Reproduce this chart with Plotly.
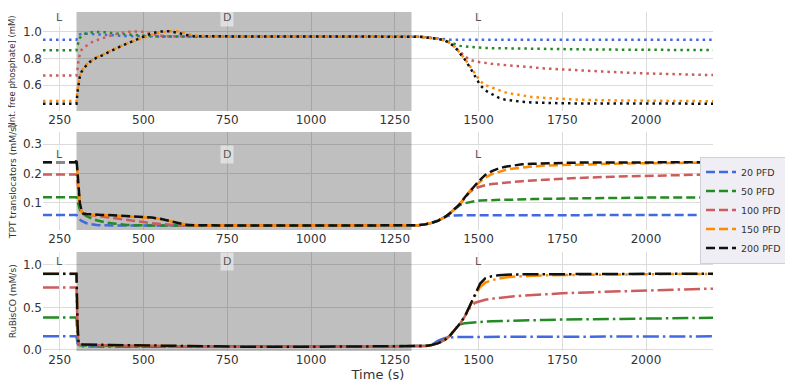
import plotly.graph_objects as go

# ---------------- data ----------------
T = [200, 298, 300, 303, 306, 310, 315, 320, 330, 340,
     350, 360, 375, 390, 410, 430, 450, 475, 500, 525,
     550, 575, 600, 625, 650, 700, 800, 1000, 1200, 1300,
     1320, 1340, 1360, 1380, 1400, 1415, 1430, 1445, 1460, 1475,
     1490, 1505, 1520, 1540, 1560, 1580, 1600, 1630, 1660, 1700,
     1750, 1800, 1900, 2000, 2100, 2200]

series_names = ["20 PFD", "50 PFD", "100 PFD", "150 PFD", "200 PFD"]

pi_20 = [.942, .942, .942, .960, .975, .982, .985, .986, .986, .985,
         .984, .983, .982, .980, .976, .972, .969, .967, .966, .966,
         .966, .966, .966, .966, .966, .966, .966, .966, .966, .966,
         .964, .960, .955, .948, .943, .942, .942, .942, .942, .942,
         .942, .942, .942, .942, .942, .942, .942, .942, .942, .942,
         .942, .942, .942, .942, .942, .942]
pi_50 = [.863, .863, .863, .900, .930, .955, .970, .980, .990, .997,
         1.0, 1.0, 1.0, .997, .990, .985, .980, .975, .970, .967,
         .966, .966, .966, .966, .966, .966, .966, .966, .966, .966,
         .964, .960, .955, .948, .935, .920, .905, .895, .890, .886,
         .883, .880, .879, .878, .877, .876, .875, .874, .873, .872,
         .870, .869, .867, .865, .864, .863]
pi_100 = [.672, .672, .672, .720, .790, .830, .865, .878, .900, .915,
          .928, .938, .952, .963, .980, .992, 1.0, 1.004, 1.0, .986,
          .972, .967, .966, .966, .966, .966, .966, .966, .966, .966,
          .964, .960, .955, .948, .935, .915, .885, .850, .815, .790,
          .778, .772, .765, .760, .755, .750, .745, .738, .732, .725,
          .718, .710, .698, .688, .680, .675]
pi_150 = [.480, .480, .480, .560, .615, .670, .705, .725, .755, .778,
          .795, .808, .825, .845, .868, .892, .912, .936, .955, .978,
          .995, 1.005, 1.005, .990, .975, .966, .966, .966, .966, .966,
          .964, .960, .955, .948, .935, .915, .885, .840, .795, .740,
          .680, .630, .600, .580, .560, .545, .535, .520, .510, .503,
          .495, .490, .485, .482, .480, .478]
pi_200 = [.460, .460, .460, .550, .610, .665, .700, .720, .750, .775,
          .793, .806, .822, .843, .865, .890, .910, .935, .965, .990,
          1.003, 1.005, .995, .978, .968, .966, .966, .966, .966, .966,
          .964, .960, .955, .948, .935, .915, .885, .840, .790, .730,
          .665, .600, .560, .530, .505, .490, .482, .474, .469, .465,
          .463, .462, .461, .460, .460, .460]

tpt_20 = [.059, .059, .059, .052, .047, .043, .039, .036, .031, .028,
          .026, .025, .024, .023, .023, .023, .023, .023, .023, .023,
          .023, .023, .023, .023, .023, .023, .023, .023, .023, .023,
          .024, .027, .032, .040, .053, .057, .058, .058, .058, .058,
          .058, .058, .058, .058, .058, .059, .059, .059, .059, .059,
          .059, .059, .059, .059, .059, .059]
tpt_50 = [.119, .119, .119, .105, .090, .078, .068, .062, .055, .049,
          .045, .041, .036, .033, .030, .027, .025, .024, .023, .023,
          .023, .023, .023, .023, .023, .023, .023, .023, .023, .023,
          .024, .027, .032, .040, .052, .065, .080, .093, .099, .103,
          .106, .108, .109, .110, .110, .111, .111, .113, .113, .114,
          .115, .116, .117, .118, .118, .119]
tpt_100 = [.197, .197, .197, .170, .130, .095, .072, .064, .060, .058,
           .057, .056, .054, .052, .049, .046, .043, .039, .035, .031,
           .028, .026, .024, .023, .023, .023, .023, .023, .023, .023,
           .024, .027, .032, .040, .052, .065, .080, .097, .118, .138,
           .150, .156, .160, .164, .167, .169, .171, .174, .176, .179,
           .182, .185, .189, .192, .195, .197]
tpt_150 = [.237, .237, .237, .200, .140, .095, .070, .062, .060, .060,
           .059, .059, .058, .058, .057, .056, .055, .054, .052, .049,
           .045, .039, .032, .027, .024, .023, .023, .023, .023, .023,
           .024, .027, .032, .040, .052, .065, .080, .097, .120, .142,
           .158, .172, .186, .198, .206, .212, .216, .221, .224, .227,
           .229, .231, .233, .235, .236, .237]
tpt_200 = [.238, .238, .250, .210, .150, .100, .073, .064, .062, .061,
           .060, .060, .059, .059, .058, .057, .056, .055, .053, .050,
           .046, .040, .032, .026, .024, .023, .023, .023, .023, .023,
           .024, .027, .032, .040, .052, .065, .080, .097, .120, .142,
           .160, .178, .195, .208, .217, .223, .227, .231, .233, .235,
           .236, .237, .238, .238, .238, .238]

rub_20 = [.160, .160, .160, .080, .050, .045, .043, .042, .041, .040,
          .040, .039, .039, .038, .038, .038, .038, .038, .038, .038,
          .038, .038, .038, .038, .038, .038, .038, .038, .038, .038,
          .040, .046, .058, .110, .140, .150, .152, .153, .153, .154,
          .154, .154, .155, .155, .155, .155, .156, .156, .156, .157,
          .157, .158, .158, .159, .159, .160]
rub_50 = [.380, .380, .380, .150, .065, .055, .053, .052, .051, .050,
          .050, .049, .048, .046, .045, .044, .042, .041, .039, .039,
          .038, .038, .038, .038, .038, .038, .038, .038, .038, .038,
          .040, .046, .058, .080, .120, .170, .250, .300, .315, .322,
          .327, .331, .334, .337, .340, .342, .344, .347, .350, .353,
          .357, .360, .366, .371, .375, .378]
rub_100 = [.733, .733, .733, .250, .075, .062, .061, .060, .059, .058,
           .058, .057, .056, .055, .054, .052, .050, .048, .046, .044,
           .042, .041, .040, .040, .039, .038, .038, .038, .038, .038,
           .040, .046, .058, .080, .120, .170, .240, .310, .400, .500,
           .555, .575, .590, .602, .612, .620, .628, .638, .646, .655,
           .665, .673, .688, .700, .710, .720]
rub_150 = [.893, .893, .893, .300, .080, .065, .064, .062, .061, .061,
           .060, .060, .059, .058, .057, .056, .055, .054, .052, .050,
           .048, .046, .044, .042, .041, .039, .038, .038, .038, .038,
           .040, .046, .058, .080, .120, .170, .240, .310, .400, .520,
           .640, .740, .790, .820, .840, .852, .860, .867, .872, .877,
           .880, .883, .887, .889, .891, .892]
rub_200 = [.895, .895, .895, .310, .082, .066, .065, .063, .062, .062,
           .061, .061, .060, .059, .058, .057, .056, .055, .053, .051,
           .049, .047, .045, .043, .041, .039, .038, .038, .038, .038,
           .040, .046, .058, .080, .120, .170, .240, .310, .400, .530,
           .670, .780, .840, .866, .877, .883, .886, .888, .889, .890,
           .891, .892, .893, .894, .895, .896]

dark_start, dark_end = 300, 1300
phase_labels = ["L", "D", "L"]
phase_label_x = [250, 750, 1500]
x_ticks = [250, 500, 750, 1000, 1250, 1500, 1750, 2000]

# ---------------- styling ----------------
colors = ["#4169e1", "#228b22", "#cd5c5c", "#ff8c00", "#111111"]
LW = 2.5
DOT = "2.5px,4px"
DASH = "9px,4px"
DASHDOT = "16px,4px,2.5px,4px"

panels = [
    dict(data=[pi_20, pi_50, pi_100, pi_150, pi_200], dash=DOT,
         title="[Int. free phosphate] (mM)", rng=[0.405, 1.15],
         ticks=[0.4, 0.6, 0.8, 1.0], fmt=".1f", lab_y=1.107,
         dom=[0.708, 1.0], legend=False, title_y=0.826, title_size=8.5),
    dict(data=[tpt_20, tpt_50, tpt_100, tpt_150, tpt_200], dash=DASH,
         title="TPT translocators (mM/s)", rng=[0.008, 0.341],
         ticks=[0.1, 0.2, 0.3], fmt=".1f", lab_y=0.265,
         dom=[0.357, 0.646], legend=True, title_y=0.501, title_size=9.2),
    dict(data=[rub_20, rub_50, rub_100, rub_150, rub_200], dash=DASHDOT,
         title="RuBisCO (mM/s)", rng=[-0.012, 1.15],
         ticks=[0.0, 0.5, 1.0], fmt=".1f", lab_y=1.035,
         dom=[0.0, 0.292], legend=False, title_y=0.147, title_size=9.2),
]

fig = go.Figure()
annotations = []
for i, p in enumerate(panels):
    n = "" if i == 0 else str(i + 1)
    xa, ya = "x" + n, "y" + n
    lo, hi = p["rng"]
    # dark-period shading (drawn first: above grid, below data)
    fig.add_trace(go.Scatter(
        x=[dark_start, dark_end, dark_end, dark_start, dark_start],
        y=[lo, lo, hi, hi, lo], mode="lines", fill="toself",
        fillcolor="rgba(0,0,0,0.25)", line=dict(width=0),
        hoverinfo="skip", showlegend=False, xaxis=xa, yaxis=ya))
    for k, vals in enumerate(p["data"]):
        fig.add_trace(go.Scatter(
            x=T, y=vals, mode="lines", name=series_names[k],
            line=dict(color=colors[k], width=LW, dash=p["dash"]),
            showlegend=p["legend"], xaxis=xa, yaxis=ya))
    for lab, lx in zip(phase_labels, phase_label_x):
        annotations.append(dict(
            x=lx, y=p["lab_y"], xref=xa, yref=ya, text=lab, showarrow=False,
            font=dict(size=11, color="#555555", family="DejaVu Sans"),
            bgcolor="rgba(255,255,255,0.5)", borderpad=2))
    # y-axis title (as rotated annotation so it can sit like the original)
    annotations.append(dict(
        x=-0.0463, y=p["title_y"], xref="paper", yref="paper",
        text=p["title"], showarrow=False, textangle=-90,
        xanchor="center", yanchor="middle",
        font=dict(size=p["title_size"], color="#333333",
                  family="DejaVu Sans")))
    axis_common = dict(showgrid=True, gridcolor="#dcdcdc", gridwidth=1,
                       zeroline=False, showline=False, ticks="", ticklen=0,
                       automargin=False,
                       tickfont=dict(size=12, color="#333333"))
    fig.layout["xaxis" + n] = dict(
        range=[200, 2200], tickvals=x_ticks, anchor=ya,
        title=dict(text="Time (s)" if i == 2 else "",
                   font=dict(size=13, color="#333333"), standoff=0),
        **axis_common)
    fig.layout["yaxis" + n] = dict(
        range=p["rng"], tickvals=p["ticks"], tickformat=p["fmt"],
        domain=p["dom"], anchor=xa, **axis_common)

# the page body adds an 8px offset, so the figure is 8px smaller each way
fig.update_layout(
    width=785, height=377,
    margin=dict(l=35, r=80, t=4, b=34, autoexpand=False),
    paper_bgcolor="white", plot_bgcolor="white",
    font=dict(family="DejaVu Sans", color="#333333"),
    annotations=annotations,
    legend=dict(xref="container", yref="container",
                x=0.8815, y=0.464, xanchor="left", yanchor="middle",
                bgcolor="#eeeef4", bordercolor="#d0d0d8", borderwidth=1,
                font=dict(size=9.5, color="#333333"),
                itemwidth=30, tracegroupgap=0),
)

fig.write_html("out.html")
